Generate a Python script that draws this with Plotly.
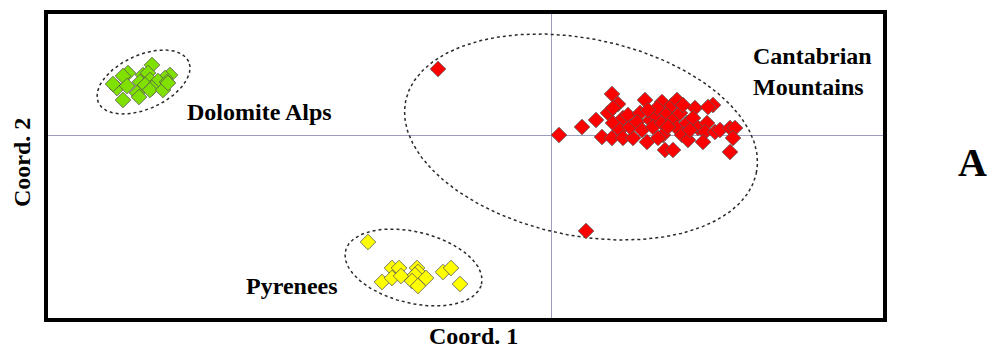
import numpy as np
import plotly.graph_objects as go

# ---- data (Coord. 1, Coord. 2) ----
dolomite_x = [-3.99, -4.23, -4.28, -4.08, -4.03, -3.81, -3.86, -4.11, -4.01, -3.93, -3.84,
              -4.34, -4.24, -4.38, -4.06, -3.99, -4.14, -4.01, -3.88, -4.28, -3.83, -4.12]
dolomite_y = [0.70, 0.62, 0.59, 0.60, 0.62, 0.60, 0.57, 0.53, 0.55, 0.54, 0.53,
              0.47, 0.49, 0.51, 0.50, 0.47, 0.42, 0.45, 0.45, 0.35, 0.52, 0.38]

pyrenees_x = [-1.83, -1.59, -1.52, -1.69, -1.59, -1.50, -1.34, -1.33, -1.36, -1.25, -1.39,
              -1.33, -1.08, -1.00, -0.91]
pyrenees_y = [-1.07, -1.33, -1.33, -1.47, -1.43, -1.41, -1.33, -1.37, -1.40, -1.43, -1.46,
              -1.51, -1.37, -1.33, -1.49]

cantabrian_x = [-1.13, 0.35, 0.08, 0.31, 0.45, 0.57, 0.61, 0.67, 0.62, 0.62, 0.51, 0.61,
                0.72, 0.77, 0.69, 0.72, 0.82, 0.79, 0.89, 0.94, 0.86, 0.91, 0.96, 0.99,
                1.04, 1.11, 1.02, 1.11, 1.12, 1.14, 1.22, 1.16, 1.21, 1.26, 1.22, 1.26,
                1.29, 1.31, 1.37, 1.36, 1.44, 1.42, 1.47, 1.56, 1.54, 1.52, 1.62, 1.57,
                1.64, 1.69, 1.79, 1.84, 1.82, 1.79, 1.06, 1.17, 1.32, 1.07, 0.97, 1.39]
cantabrian_y = [0.66, -0.96, 0.00, 0.08, 0.15, 0.22, 0.41, 0.31, 0.27, 0.12, -0.02, -0.03,
                0.17, 0.20, 0.05, -0.03, -0.03, 0.08, 0.22, 0.35, 0.13, 0.05, -0.07, 0.15,
                0.20, 0.33, 0.08, 0.12, 0.00, -0.15, -0.15, 0.22, 0.30, 0.35, 0.15, 0.07,
                0.22, 0.00, -0.05, 0.12, 0.27, 0.17, 0.07, 0.12, 0.03, -0.07, 0.30, 0.28,
                0.03, 0.05, 0.07, 0.07, -0.03, -0.17, 0.27, 0.08, 0.30, -0.03, 0.25, 0.05]

# ellipse parameters: (cx, cy, semi-major, semi-minor, angle deg)
ellipses = {
    "Dolomite Alps": (-4.075, 0.53, 0.496, 0.27, 24.4),
    "Pyrenees": (-1.375, -1.325, 0.70, 0.357, -13.8),
    "Cantabrian Mountains": (0.30, -0.02, 1.79, 0.985, -11.6),
}

fig = go.Figure()

t = np.linspace(0, 2 * np.pi, 361)
for name, (cx, cy, a, b, ang) in ellipses.items():
    th = np.deg2rad(ang)
    ex = cx + a * np.cos(t) * np.cos(th) - b * np.sin(t) * np.sin(th)
    ey = cy + a * np.cos(t) * np.sin(th) + b * np.sin(t) * np.cos(th)
    fig.add_trace(go.Scatter(x=ex, y=ey, mode="lines", hoverinfo="skip", showlegend=False,
                             line=dict(color="#2a2a2a", width=1.5, dash="dot")))

mk_line = dict(color="#555555", width=0.8)
fig.add_trace(go.Scatter(x=dolomite_x, y=dolomite_y, mode="markers", name="Dolomite Alps",
                         marker=dict(symbol="diamond", size=12, color="#80e000", line=mk_line)))
fig.add_trace(go.Scatter(x=pyrenees_x, y=pyrenees_y, mode="markers", name="Pyrenees",
                         marker=dict(symbol="diamond", size=12, color="#ffff00", line=mk_line)))
fig.add_trace(go.Scatter(x=cantabrian_x, y=cantabrian_y, mode="markers", name="Cantabrian Mountains",
                         marker=dict(symbol="diamond", size=12, color="#ff0000", line=mk_line)))

serif = "Liberation Serif, Times New Roman, serif"
lab_font = dict(family=serif, size=24, color="black")

annotations = [
    dict(x=-2.92, y=0.23, xref="x", yref="y", text="<b>Dolomite Alps</b>", showarrow=False,
         font=lab_font, xanchor="center", yanchor="middle"),
    dict(x=-2.59, y=-1.51, xref="x", yref="y", text="<b>Pyrenees</b>", showarrow=False,
         font=lab_font, xanchor="center", yanchor="middle"),
    dict(x=2.00, y=0.635, xref="x", yref="y", text="<b>Cantabrian<br>Mountains</b>", showarrow=False,
         font=lab_font, xanchor="left", yanchor="middle", align="left"),
    dict(x=(473 - 46) / 839, y=-(336 - 320) / 308, xref="paper", yref="paper", text="<b>Coord. 1</b>",
         showarrow=False, font=lab_font, xanchor="center", yanchor="middle"),
    dict(x=(22 - 46) / 839, y=(320 - 163) / 308, xref="paper", yref="paper", text="<b>Coord. 2</b>",
         showarrow=False, font=lab_font, xanchor="center", yanchor="middle", textangle=-90),
    dict(x=(972 - 46) / 839, y=(320 - 162) / 308, xref="paper", yref="paper", text="<b>A</b>",
         showarrow=False, font=dict(family=serif, size=40, color="black"), xanchor="center", yanchor="middle"),
]

fig.update_layout(
    width=990, height=349,
    margin=dict(l=46, r=105, t=12, b=29),
    paper_bgcolor="white", plot_bgcolor="white",
    showlegend=False,
    annotations=annotations,
    shapes=[dict(type="rect", xref="paper", yref="paper", x0=0, y0=0, x1=1, y1=1,
                 line=dict(color="black", width=4), layer="above")],
)
fig.update_xaxes(range=[-5.05, 3.34], showgrid=False, showticklabels=False, ticks="",
                 zeroline=True, zerolinecolor="#9c9cbc", zerolinewidth=1)
fig.update_yaxes(range=[-1.85, 1.23], showgrid=False, showticklabels=False, ticks="",
                 zeroline=True, zerolinecolor="#9c9cbc", zerolinewidth=1)

fig.write_html("out.html", config={"displayModeBar": False},
               post_script="document.body.style.margin='0';")
